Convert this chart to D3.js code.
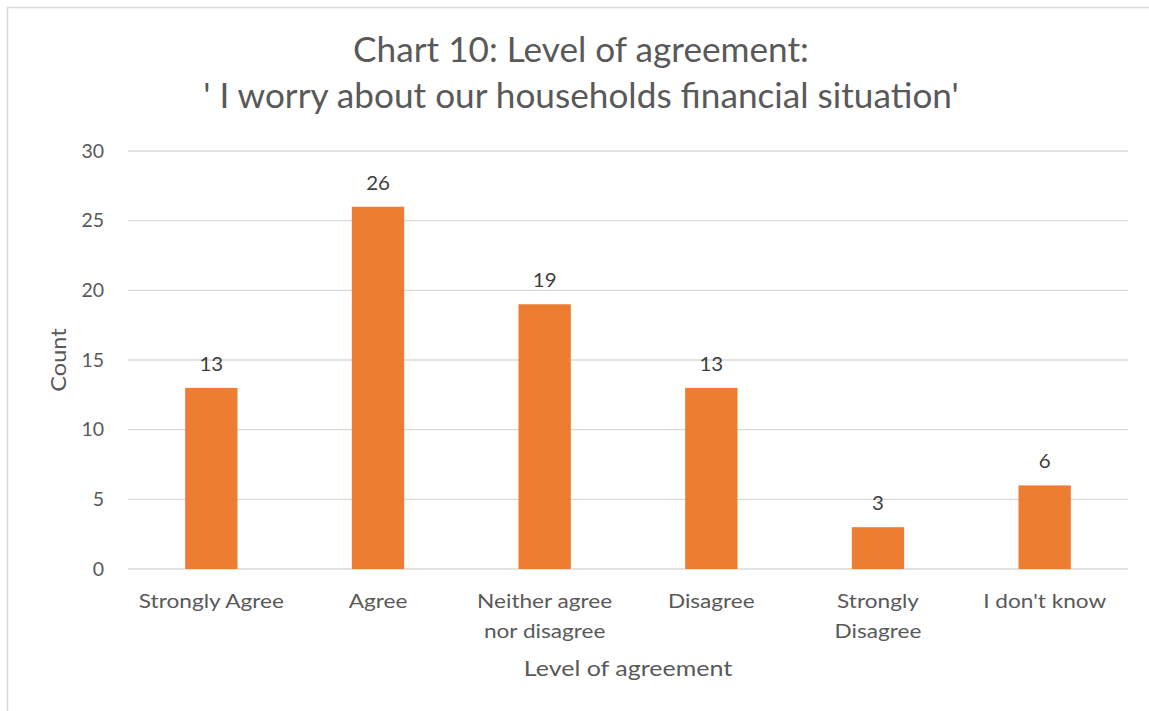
<!DOCTYPE html>
<html>
<head>
<meta charset="utf-8">
<script src="https://cdn.jsdelivr.net/npm/d3@7"></script>
<style>
  html, body { margin: 0; padding: 0; background: #fff; }
  svg { display: block; font-family: Lato, "Open Sans", sans-serif; }
</style>
</head>
<body>
<svg id="chart" width="1149" height="711"></svg>
<script>
// Survey responses: level of agreement with the statement
const categories = [
  ["Strongly Agree"],
  ["Agree"],
  ["Neither agree", "nor disagree"],
  ["Disagree"],
  ["Strongly", "Disagree"],
  ["I don't know"]
];
const counts = [13, 26, 19, 13, 3, 6];
const yTicks = [0, 5, 10, 15, 20, 25, 30];
const titleLines = ["Chart 10: Level of agreement:", "' I worry about our households financial situation'"];
const xTitle = "Level of agreement";
const yTitle = "Count";

const svg = d3.select("#chart");
const W = 1149, H = 711;
const margin = { left: 128, right: 21, top: 151, bottom: 142 };
const textColor = "#595959";
const barColor = "#ED7D31";

// text placed at (x, y), widened horizontally by sx, optionally rotated
function label(parent, x, y, str, size, sx, opts = {}) {
  const rot = opts.rotate ? ` rotate(${opts.rotate})` : "";
  return parent.append("text")
    .attr("transform", `translate(${x},${y})${rot} scale(${sx},1)`)
    .attr("text-anchor", opts.anchor || "middle")
    .attr("fill", opts.fill || textColor)
    .style("font-size", size + "px")
    .text(str);
}

// outer chart border
svg.append("rect")
  .attr("x", 7.5).attr("y", 7.5)
  .attr("width", W + 20).attr("height", H + 20)
  .attr("fill", "none").attr("stroke", "#d9d9d9").attr("stroke-width", 1.5);

const keys = categories.map(d => d.join(" "));
const x = d3.scaleBand()
  .domain(keys)
  .range([margin.left, W - margin.right])
  .paddingInner(0.686).paddingOuter(0.343);

const y = d3.scaleLinear()
  .domain([0, 30])
  .range([H - margin.bottom, margin.top]);

// gridlines
svg.append("g")
  .selectAll("line")
  .data(yTicks)
  .join("line")
  .attr("x1", margin.left).attr("x2", W - margin.right)
  .attr("y1", d => y(d)).attr("y2", d => y(d))
  .attr("stroke", "#d9d9d9").attr("stroke-width", 1.3);

// y axis tick labels
const yAxis = d3.axisLeft(y).tickValues(yTicks).tickSize(0).tickPadding(24);
const gy = svg.append("g")
  .attr("transform", `translate(${margin.left},0)`)
  .call(yAxis);
gy.select(".domain").remove();
gy.selectAll("text")
  .attr("fill", textColor)
  .style("font-size", "19.5px")
  .style("font-family", "Lato, 'Open Sans', sans-serif");

// bars
svg.append("g")
  .selectAll("rect")
  .data(counts)
  .join("rect")
  .attr("x", (d, i) => x(keys[i]))
  .attr("y", d => y(d))
  .attr("width", x.bandwidth())
  .attr("height", d => y(0) - y(d))
  .attr("fill", barColor);

// value labels
const vl = svg.append("g");
counts.forEach((v, i) => {
  label(vl, x(keys[i]) + x.bandwidth() / 2, y(v) - 17, v, 19.5, 1.05, { fill: "#404040" });
});

// x axis category labels
const xl = svg.append("g");
categories.forEach((lines, i) => {
  const cx = x(keys[i]) + x.bandwidth() / 2;
  lines.forEach((ln, j) => {
    label(xl, cx, 608 + j * 30, ln, 19.5, 1.16);
  });
});

// axis titles
label(svg, (margin.left + W - margin.right) / 2, 676, xTitle, 21, 1.19);
label(svg, 66, (y(0) + y(30)) / 2, yTitle, 21, 1.12, { rotate: -90 });

// chart title
titleLines.forEach((ln, i) => {
  label(svg, 581, 62 + i * 46, ln, 34, 1.035);
});
</script>
</body>
</html>
